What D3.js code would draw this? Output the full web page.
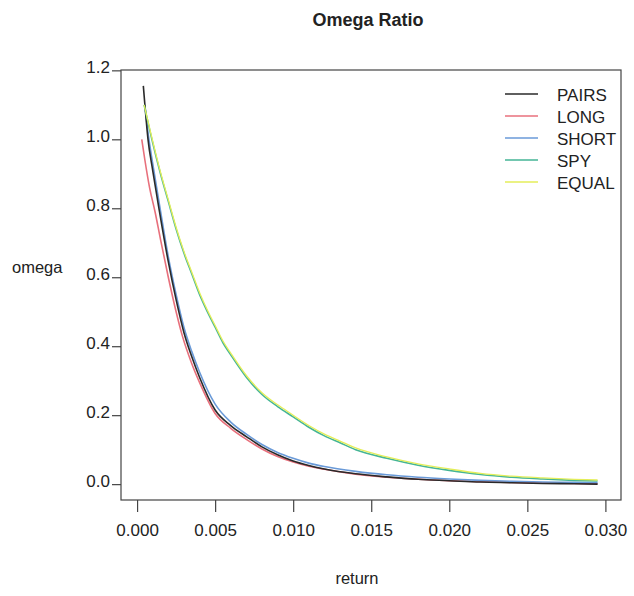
<!DOCTYPE html>
<html>
<head>
<meta charset="utf-8">
<script src="https://cdn.jsdelivr.net/npm/d3@7/dist/d3.min.js"></script>
<style>
  body { margin: 0; background: #fff; }
  text { font-family: "Liberation Sans", Arial, sans-serif; fill: #222; }
</style>
</head>
<body>
<svg id="chart" width="634" height="596"></svg>
<script>
// ---- data ----
const seriesNames = ["PAIRS", "LONG", "SHORT", "SPY", "EQUAL"];
const seriesColors = ["#2a2a2a", "#e8707c", "#6a9ad8", "#45b596", "#e4ee5a"];

const pairsX = [0.0004, 0.0005, 0.0007, 0.001, 0.0014, 0.002, 0.0025, 0.003, 0.0035, 0.004, 0.005, 0.006, 0.007, 0.008, 0.009, 0.010, 0.011, 0.012, 0.014, 0.016, 0.018, 0.020, 0.022, 0.024, 0.026, 0.028, 0.0295];
const pairsY = [1.155, 1.10, 1.00, 0.91, 0.80, 0.645, 0.535, 0.44, 0.37, 0.31, 0.215, 0.17, 0.138, 0.108, 0.085, 0.067, 0.054, 0.044, 0.030, 0.021, 0.014, 0.010, 0.006, 0.004, 0.002, 0.001, 0.000];

const longX = [0.0003, 0.0005, 0.0008, 0.00115, 0.0015, 0.002, 0.0025, 0.0029, 0.0035, 0.004, 0.005, 0.006, 0.007, 0.008, 0.009, 0.010, 0.011, 0.012, 0.014, 0.016, 0.018, 0.020, 0.022, 0.024, 0.026, 0.028, 0.0295];
const longY = [1.00, 0.94, 0.86, 0.79, 0.71, 0.60, 0.50, 0.43, 0.35, 0.295, 0.205, 0.162, 0.13, 0.102, 0.08, 0.064, 0.052, 0.043, 0.029, 0.020, 0.014, 0.010, 0.007, 0.005, 0.003, 0.002, 0.001];

const shortX = [0.0005, 0.0007, 0.001, 0.0014, 0.002, 0.0025, 0.003, 0.0035, 0.004, 0.005, 0.006, 0.007, 0.008, 0.009, 0.010, 0.011, 0.012, 0.014, 0.016, 0.018, 0.020, 0.022, 0.024, 0.026, 0.028, 0.0295];
const shortY = [1.10, 1.02, 0.93, 0.82, 0.66, 0.55, 0.455, 0.385, 0.325, 0.232, 0.18, 0.145, 0.115, 0.092, 0.075, 0.061, 0.051, 0.037, 0.027, 0.020, 0.015, 0.011, 0.008, 0.006, 0.005, 0.004];

const spyX = [0.00045, 0.001, 0.0015, 0.002, 0.0025, 0.003, 0.0035, 0.004, 0.0045, 0.005, 0.0055, 0.006, 0.007, 0.008, 0.009, 0.010, 0.011, 0.012, 0.013, 0.014, 0.016, 0.018, 0.020, 0.022, 0.024, 0.026, 0.028, 0.0295];
const spyY = [1.10, 0.99, 0.90, 0.82, 0.74, 0.67, 0.61, 0.55, 0.50, 0.455, 0.41, 0.375, 0.31, 0.26, 0.225, 0.195, 0.165, 0.14, 0.12, 0.10, 0.075, 0.055, 0.040, 0.028, 0.020, 0.015, 0.011, 0.009];

const equalX = [0.00045, 0.001, 0.0015, 0.002, 0.0025, 0.003, 0.0035, 0.004, 0.0045, 0.005, 0.0055, 0.006, 0.007, 0.008, 0.009, 0.010, 0.011, 0.012, 0.013, 0.014, 0.016, 0.018, 0.020, 0.022, 0.024, 0.026, 0.028, 0.0295];
const equalY = [1.10, 0.995, 0.905, 0.825, 0.745, 0.675, 0.615, 0.556, 0.505, 0.46, 0.415, 0.38, 0.315, 0.265, 0.23, 0.2, 0.17, 0.145, 0.125, 0.105, 0.079, 0.059, 0.044, 0.031, 0.023, 0.018, 0.014, 0.012];

const xTicks = [0.000, 0.005, 0.010, 0.015, 0.020, 0.025, 0.030];
const yTicks = [0.0, 0.2, 0.4, 0.6, 0.8, 1.0, 1.2];

const titleText = "Omega Ratio";
const xLabel = "return";
const yLabel = "omega";

// ---- layout ----
const svg = d3.select("#chart");
const box = { left: 121, right: 621, top: 70, bottom: 500 };

const x = d3.scaleLinear().domain([-0.00103, 0.0310]).range([box.left, box.right]);
const y = d3.scaleLinear().domain([-0.046, 1.201]).range([box.bottom, box.top]);

const series = [
  { name: seriesNames[0], color: seriesColors[0], xs: pairsX, ys: pairsY },
  { name: seriesNames[1], color: seriesColors[1], xs: longX, ys: longY },
  { name: seriesNames[2], color: seriesColors[2], xs: shortX, ys: shortY },
  { name: seriesNames[3], color: seriesColors[3], xs: spyX, ys: spyY },
  { name: seriesNames[4], color: seriesColors[4], xs: equalX, ys: equalY }
];

// title
svg.append("text")
  .attr("x", 368).attr("y", 26)
  .attr("text-anchor", "middle")
  .style("font-size", "18px").style("font-weight", "bold")
  .text(titleText);

// frame
svg.append("rect")
  .attr("x", box.left).attr("y", box.top)
  .attr("width", box.right - box.left).attr("height", box.bottom - box.top)
  .attr("fill", "none").attr("stroke", "#444").attr("stroke-width", 1.2);

// x axis
const xAxis = d3.axisBottom(x).tickValues(xTicks).tickSize(12).tickPadding(12)
  .tickFormat(d3.format(".3f"));
const gx = svg.append("g").attr("transform", `translate(0,${box.bottom})`).call(xAxis);
gx.select(".domain").remove();
gx.selectAll(".tick line").attr("stroke", "#444").attr("stroke-width", 1.2);
gx.selectAll(".tick text").style("font-size", "17px").style("font-family", "Liberation Sans, Arial, sans-serif").attr("fill", "#222");

// y axis
const yAxis = d3.axisLeft(y).tickValues(yTicks).tickSize(9).tickPadding(2)
  .tickFormat(d3.format(".1f"));
const gy = svg.append("g").attr("transform", `translate(${box.left},0)`).call(yAxis);
gy.select(".domain").remove();
gy.selectAll(".tick line").attr("stroke", "#444").attr("stroke-width", 1.2);
gy.selectAll(".tick text").style("font-size", "17px").style("font-family", "Liberation Sans, Arial, sans-serif")
  .attr("fill", "#222").attr("dy", "0.12em");

// axis labels
svg.append("text").attr("x", 357).attr("y", 584).attr("text-anchor", "middle")
  .style("font-size", "16.5px").text(xLabel);
svg.append("text").attr("x", 12).attr("y", 273).attr("text-anchor", "start")
  .style("font-size", "16.5px").text(yLabel);

// lines
const line = d3.line().x(d => x(d[0])).y(d => y(d[1])).curve(d3.curveMonotoneX);
const drawOrder = [1, 2, 0, 3, 4];
drawOrder.forEach(i => {
  const s = series[i];
  const pts = s.xs.map((v, j) => [v, s.ys[j]]);
  svg.append("path").datum(pts)
    .attr("d", line)
    .attr("fill", "none")
    .attr("stroke", s.color)
    .attr("stroke-width", i === 4 ? 1.3 : 1.6)
    .attr("stroke-linejoin", "round");
});

// legend
const legend = svg.append("g");
series.forEach((s, i) => {
  const ly = 94 + i * 22;
  legend.append("line")
    .attr("x1", 505).attr("x2", 538).attr("y1", ly).attr("y2", ly)
    .attr("stroke", s.color).attr("stroke-width", 1.6);
  legend.append("text")
    .attr("x", 557).attr("y", ly + 1).attr("dy", "0.38em")
    .style("font-size", "17px")
    .text(s.name);
});
</script>
</body>
</html>
